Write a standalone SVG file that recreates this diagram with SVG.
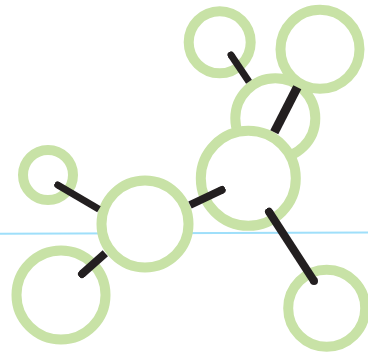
<svg xmlns="http://www.w3.org/2000/svg" width="368" height="352" viewBox="0 0 368 352">
  <style>
    .ring { fill: #fff; stroke: #c8e2a6; stroke-width: 10; }
    .bond { fill: none; stroke: #231f20; stroke-linecap: butt; marker-start: url(#cap); }
    .plain { fill: none; stroke: #231f20; stroke-linecap: butt; }
    .axis { fill: none; stroke: #9fdffa; stroke-width: 2; }
  </style>
  <defs>
    <marker id="cap" viewBox="-1 -1 2 2" markerWidth="1" markerHeight="1" orient="auto" markerUnits="strokeWidth">
      <circle r="1" fill="#231f20"/>
    </marker>
  </defs>
  <line id="axis" class="axis" x1="0" y1="233.8" x2="368" y2="232.6"/>
  <g id="node-mid"><circle class="ring" cx="275.3" cy="118.3" r="40"/></g>
  <g id="node-top-small"><circle class="ring" cx="219.7" cy="42.3" r="31"/></g>
  <g id="node-top-right"><circle class="ring" cx="320" cy="49.3" r="39.5"/></g>
  <g id="node-big"><circle class="ring" cx="248.3" cy="178.3" r="47.5"/></g>
  <g id="node-center"><circle class="ring" cx="145" cy="224" r="43.5"/></g>
  <g id="node-left-small"><circle class="ring" cx="48" cy="175" r="25"/></g>
  <g id="node-bottom-left"><circle class="ring" cx="61" cy="295" r="44.5"/></g>
  <g id="node-bottom-right"><circle class="ring" cx="326.7" cy="308.3" r="38.5"/></g>
  <g id="connectors">
    <line class="bond" stroke-width="7" x1="57.7" y1="185" x2="99" y2="209.3"/>
    <line class="bond" stroke-width="8" x1="82" y1="274" x2="105.3" y2="253.3"/>
    <line class="bond" stroke-width="8" x1="221.7" y1="190" x2="190" y2="205"/>
    <line class="bond" stroke-width="7" x1="231" y1="55" x2="249" y2="81.7"/>
    <line class="plain" stroke-width="9" x1="297.3" y1="87.3" x2="274.3" y2="132.3"/>
    <line class="bond" stroke-width="8" x1="269" y1="211.7" x2="314" y2="281"/>
    <circle cx="314" cy="281" r="4" fill="#231f20"/>
  </g>
</svg>
